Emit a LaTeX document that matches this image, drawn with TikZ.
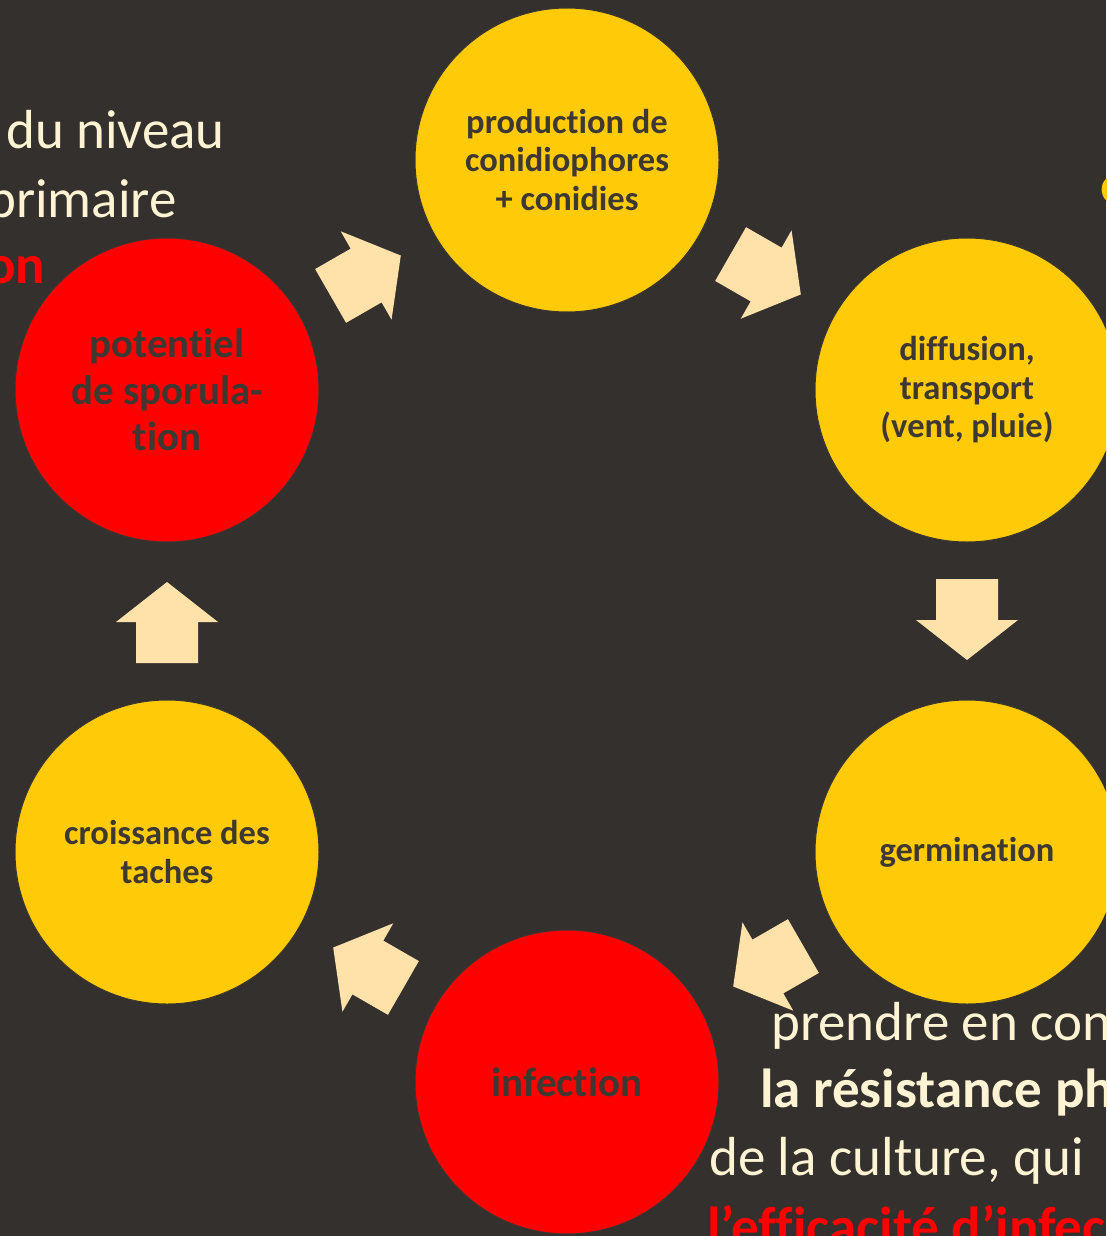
\documentclass[tikz,border=0pt]{standalone}
\usepackage{fontspec}
\setmainfont{Carlito}[Ligatures={NoCommon,NoContextual}]
\usetikzlibrary{calc}
\definecolor{bgc}{HTML}{33302D}
\definecolor{cyel}{HTML}{FFCA08}
\definecolor{cred}{HTML}{FF0000}
\definecolor{dtext}{HTML}{3E3833}
\definecolor{arrowc}{HTML}{FFE1AA}
\definecolor{cream}{HTML}{FEF3D2}
\definecolor{circedge}{HTML}{3A3531}
\tikzset{
  stage/.style={circle, minimum size=304pt, inner sep=0pt, draw=circedge, line width=1pt,
    text=dtext, align=center, font=\bfseries\fontsize{34.5}{38.5}\selectfont},
  yel/.style={stage, fill=cyel},
  rd/.style={stage, fill=cred, font=\bfseries\fontsize{41}{46.5}\selectfont},
  side/.style={inner sep=0pt, anchor=base west, text=cream, font=\fontsize{55}{66}\selectfont},
  sideb/.style={side, font=\bfseries\fontsize{55}{66}\selectfont},
  barrow/.pic={\fill[arrowc] (-42pt,31pt) -- (-1pt,31pt) -- (-1pt,51pt) -- (39pt,0pt)
     -- (-1pt,-51pt) -- (-1pt,-31pt) -- (-42pt,-31pt) -- cycle;}
}
\begin{document}
\begin{tikzpicture}[x=1pt,y=1pt]
\useasboundingbox (0,0) rectangle (1106,-1236);
\fill[bgc] (0,0) rectangle (1106,-1236);
\clip (0,0) rectangle (1106,-1236);
% side texts
\node[side] (t1) at (6,-149) {du niveau};
\node[side] (t2) at (-13,-217) {primaire};
\node[sideb, text=cred] (t3) at (-14,-283) {on};
\node[sideb, text=cyel] (t4) at (1100,-203) {é};
\node[side] (b1) at (771,-1040) {prendre en con};
\node[sideb] (b2) at (760,-1107) {la résistance ph};
\node[side] (b3) at (709,-1175) {de la culture, qui};
\node[sideb, text=cred] (b4) at (707,-1245) {l’efficacité d’infec};
% stages
\node[yel] (A) at (567,-160) {production de\\conidiophores\\+ conidies};
\node[yel] (B) at (967,-390) {diffusion,\\transport\\(vent, pluie)};
\node[yel] (C) at (967,-852) {germination};
\node[rd]  (D) at (567,-1082) {infection};
\node[yel] (E) at (167,-852) {croissance des\\taches};
\node[rd]  (F) at (167,-390) {potentiel\\de sporula-\\tion};
% arrows
\path (A) -- (B) pic[pos=0.5, sloped, allow upside down] {barrow};
\path (B) -- (C) pic[pos=0.5, sloped, allow upside down] {barrow};
\path (C) -- (D) pic[pos=0.5, sloped, allow upside down] {barrow};
\path (D) -- (E) pic[pos=0.5, sloped, allow upside down] {barrow};
\path (E) -- (F) pic[pos=0.5, sloped, allow upside down] {barrow};
\path (F) -- (A) pic[pos=0.5, sloped, allow upside down] {barrow};
\end{tikzpicture}
\end{document}
